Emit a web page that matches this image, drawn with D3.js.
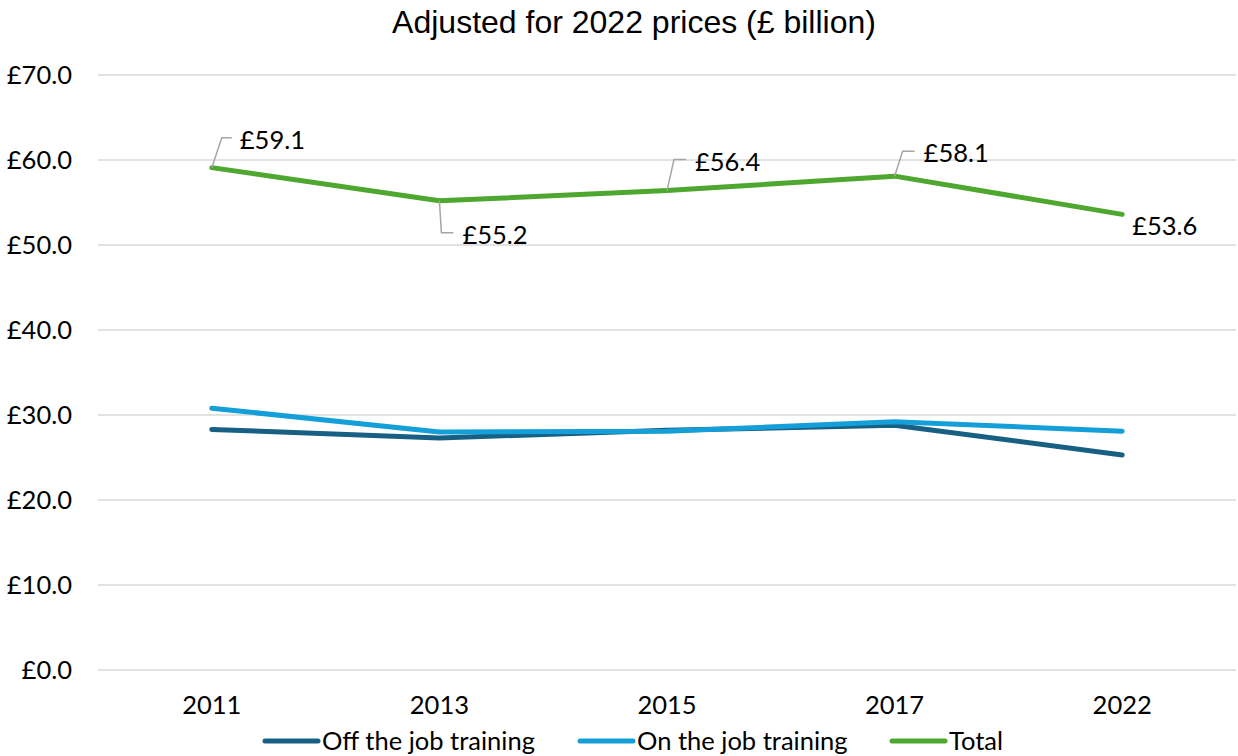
<!DOCTYPE html>
<meta charset="utf-8">
<script src="https://d3js.org/d3.v7.min.js"></script>
<style>
  body { margin: 0; background: #fff; }
  text { font-family: Lato, "Open Sans", sans-serif; fill: #000; }
  .title { font-family: "Liberation Sans", Arial, sans-serif; }
</style>
<div id="my_dataviz"></div>
<script>
// data
var years = ["2011", "2013", "2015", "2017", "2022"];
var offJob = [28.3, 27.3, 28.2, 28.8, 25.3];
var onJob = [30.8, 28.0, 28.1, 29.2, 28.1];
var total = [59.1, 55.2, 56.4, 58.1, 53.6];
var yTicks = [0, 10, 20, 30, 40, 50, 60, 70];
var seriesNames = ["Off the job training", "On the job training", "Total"];

var width = 1238, height = 756;
var margin = { top: 75, right: 2, bottom: 86, left: 98 };
var fs = "25.5px";

var svg = d3.select("#my_dataviz")
  .append("svg")
  .attr("width", width)
  .attr("height", height);

// title
svg.append("text")
  .attr("class", "title")
  .attr("x", 634)
  .attr("y", 33)
  .attr("text-anchor", "middle")
  .style("font-size", "32px")
  .text("Adjusted for 2022 prices (£ billion)");

var x = d3.scaleBand()
  .domain(years)
  .range([margin.left, width - margin.right]);

var y = d3.scaleLinear()
  .domain([0, 70])
  .range([height - margin.bottom, margin.top]);

// gridlines
svg.append("g")
  .selectAll("line")
  .data(yTicks)
  .enter()
  .append("line")
  .attr("x1", margin.left)
  .attr("x2", width - margin.right)
  .attr("y1", function (d) { return y(d); })
  .attr("y2", function (d) { return y(d); })
  .attr("stroke", "#d9d9d9")
  .attr("stroke-width", 1.5);

// y tick labels
svg.append("g")
  .selectAll("text")
  .data(yTicks)
  .enter()
  .append("text")
  .attr("x", 72)
  .attr("y", function (d) { return y(d); })
  .attr("dy", "0.35em")
  .attr("text-anchor", "end")
  .style("font-size", fs)
  .text(function (d) { return "£" + d.toFixed(1); });

// x tick labels
svg.append("g")
  .selectAll("text")
  .data(years)
  .enter()
  .append("text")
  .attr("x", function (d) { return x(d) + x.bandwidth() / 2; })
  .attr("y", 705)
  .attr("dy", "0.35em")
  .attr("text-anchor", "middle")
  .style("font-size", fs)
  .text(function (d) { return d; });

var color = d3.scaleOrdinal()
  .domain(seriesNames)
  .range(["#185f84", "#149fd9", "#4ea72e"]);

var line = d3.line()
  .x(function (d, i) { return x(years[i]) + x.bandwidth() / 2; })
  .y(function (d) { return y(d); });

var allSeries = [offJob, onJob, total];
svg.append("g")
  .selectAll("path")
  .data(allSeries)
  .enter()
  .append("path")
  .attr("d", line)
  .attr("fill", "none")
  .attr("stroke", function (d, i) { return color(seriesNames[i]); })
  .attr("stroke-width", 5)
  .attr("stroke-linejoin", "round")
  .attr("stroke-linecap", "round");

// data labels for total with leader lines (offsets from the point)
var labelOffsets = [
  { dx: 10, dy: -30, hx: 10, tx: 28 },
  { dx: 2, dy: 32, hx: 12, tx: 23 },
  { dx: 7, dy: -31, hx: 12, tx: 28 },
  { dx: 8, dy: -25, hx: 12, tx: 29 },
  null
];
var labels = svg.append("g");
total.forEach(function (v, i) {
  var px = x(years[i]) + x.bandwidth() / 2;
  var py = y(v);
  var o = labelOffsets[i];
  if (o) {
    labels.append("polyline")
      .attr("points", [[px, py], [px + o.dx, py + o.dy], [px + o.dx + o.hx, py + o.dy]].join(" "))
      .attr("fill", "none")
      .attr("stroke", "#a6a6a6")
      .attr("stroke-width", 1.5);
    labels.append("text")
      .attr("x", px + o.tx)
      .attr("y", py + o.dy + 2)
      .attr("dy", "0.35em")
      .style("font-size", fs)
      .text("£" + v.toFixed(1));
  } else {
    labels.append("text")
      .attr("x", px + 10)
      .attr("y", py + 12)
      .attr("dy", "0.35em")
      .style("font-size", fs)
      .text("£" + v.toFixed(1));
  }
});

// legend
var legendX = [265, 580, 892];
var legend = svg.append("g")
  .selectAll("g")
  .data(seriesNames)
  .enter()
  .append("g")
  .attr("transform", function (d, i) { return "translate(" + legendX[i] + ",741)"; });
legend.append("line")
  .attr("x1", 0)
  .attr("x2", 53)
  .attr("stroke", function (d) { return color(d); })
  .attr("stroke-width", 5)
  .attr("stroke-linecap", "round");
legend.append("text")
  .attr("x", 57)
  .attr("dy", "0.35em")
  .style("font-size", fs)
  .text(function (d) { return d; });
</script>
